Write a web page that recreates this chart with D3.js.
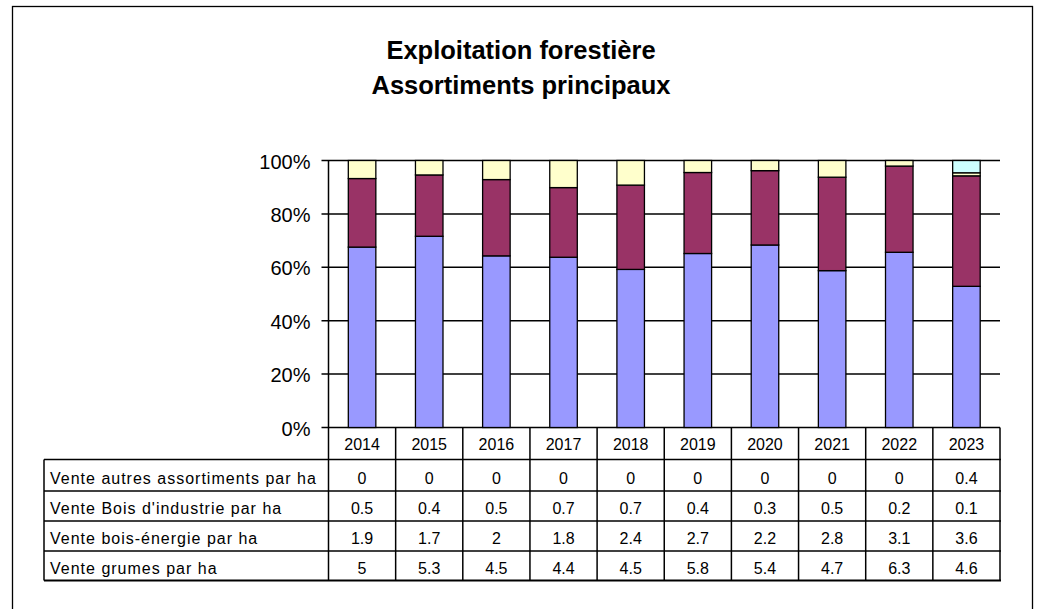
<!DOCTYPE html>
<html><head><meta charset="utf-8">
<script src="https://cdn.jsdelivr.net/npm/d3@7"></script>
<style>body{margin:0;background:#fff}svg{display:block;font-family:"Liberation Sans",Arial,sans-serif}</style>
</head><body><svg id="c" width="1042" height="609"></svg>
<script>
const years = ["2014","2015","2016","2017","2018","2019","2020","2021","2022","2023"];
const grumes = [5,5.3,4.5,4.4,4.5,5.8,5.4,4.7,6.3,4.6];
const boisEnergie = [1.9,1.7,2,1.8,2.4,2.7,2.2,2.8,3.1,3.6];
const boisIndustrie = [0.5,0.4,0.5,0.7,0.7,0.4,0.3,0.5,0.2,0.1];
const autres = [0,0,0,0,0,0,0,0,0,0.4];
const seriesNames = ["Vente grumes par ha","Vente bois-énergie par ha","Vente Bois d'industrie par ha","Vente autres assortiments par ha"];
const seriesColors = ["#9999FF","#993366","#FFFFCC","#CCFFFF"];
const yTicks = [0,0.2,0.4,0.6,0.8,1];
const titleLines = ["Exploitation forestière","Assortiments principaux"];

const svg = d3.select("#c");
svg.append("rect").attr("x",12.5).attr("y",6.5).attr("width",1020).attr("height",620).attr("fill","none").attr("stroke","#000").attr("stroke-width",1.3);

svg.selectAll("text.title").data(titleLines).join("text").attr("class","title")
  .attr("x",521).attr("y",(d,i)=>59+i*35).attr("text-anchor","middle")
  .attr("font-weight","bold").attr("font-size",25.5).text(d=>d);

const L=328.5,R=1000,T=160.5,B=427.5;
const x = d3.scaleBand().domain(years).range([L,R]).paddingInner(0).paddingOuter(0);
const y = d3.scaleLinear().domain([0,1]).range([B,T]);

const rows = years.map((yr,i)=>{
  const tot = grumes[i]+boisEnergie[i]+boisIndustrie[i]+autres[i];
  return {year:yr, s0:grumes[i]/tot, s1:boisEnergie[i]/tot, s2:boisIndustrie[i]/tot, s3:autres[i]/tot};
});
const stack = d3.stack().keys(["s0","s1","s2","s3"])(rows);

svg.append("g").selectAll("line").data(yTicks).join("line")
  .attr("x1",L-7).attr("x2",R).attr("y1",d=>y(d)).attr("y2",d=>y(d))
  .attr("stroke","#000").attr("stroke-width",1.5);
svg.append("line").attr("x1",L).attr("x2",L).attr("y1",T).attr("y2",B).attr("stroke","#000").attr("stroke-width",1.5);
svg.append("g").selectAll("text").data(yTicks).join("text")
  .attr("x",L-18).attr("y",d=>y(d)+8).attr("text-anchor","end").attr("font-size",20)
  .text(d=>d3.format(".0%")(d));

const bw = x.bandwidth()*0.41;
stack.forEach((s,k)=>{
  svg.append("g").selectAll("rect").data(s.filter(d=>d[1]-d[0]>0)).join("rect")
    .attr("x",d=>x(d.data.year)+x.bandwidth()/2-bw/2).attr("width",bw)
    .attr("y",d=>y(d[1])).attr("height",d=>y(d[0])-y(d[1]))
    .attr("fill",seriesColors[k]).attr("stroke","#000").attr("stroke-width",1.3);
});

const tL=44, rowTops=[427.5,459.5,491,521,551,580.5];
const tableRows = [autres,boisIndustrie,boisEnergie,grumes];
const tableLabels = [seriesNames[3],seriesNames[2],seriesNames[1],seriesNames[0]];
const g = svg.append("g");
years.forEach((yr,i)=>{
  g.append("line").attr("x1",x(yr)+x.bandwidth()).attr("x2",x(yr)+x.bandwidth()).attr("y1",rowTops[0]).attr("y2",rowTops[5]).attr("stroke","#000").attr("stroke-width",1.5);
});
g.append("line").attr("x1",L).attr("x2",L).attr("y1",rowTops[0]).attr("y2",rowTops[5]).attr("stroke","#000").attr("stroke-width",1.5);
g.append("line").attr("x1",tL).attr("x2",tL).attr("y1",rowTops[1]).attr("y2",rowTops[5]).attr("stroke","#000").attr("stroke-width",1.5);
rowTops.slice(1).forEach((ry,i)=>{
  g.append("line").attr("x1",tL).attr("x2",R+1).attr("y1",ry).attr("y2",ry).attr("stroke","#000").attr("stroke-width",i===4?2:1.5);
});
g.selectAll("text.yr").data(years).join("text").attr("class","yr")
  .attr("x",d=>x(d)+x.bandwidth()/2).attr("y",450).attr("text-anchor","middle").attr("font-size",16).text(d=>d);
tableRows.forEach((vals,r)=>{
  const cy = rowTops[r+1]+(r===0?24.5:23.2);
  g.append("text").attr("x",tL+6).attr("y",cy).attr("font-size",16).attr("letter-spacing",1).text(tableLabels[r]);
  g.selectAll(null).data(vals).join("text")
    .attr("x",(d,i)=>x(years[i])+x.bandwidth()/2).attr("y",cy).attr("text-anchor","middle").attr("font-size",16).text(d=>d);
});
</script></body></html>
